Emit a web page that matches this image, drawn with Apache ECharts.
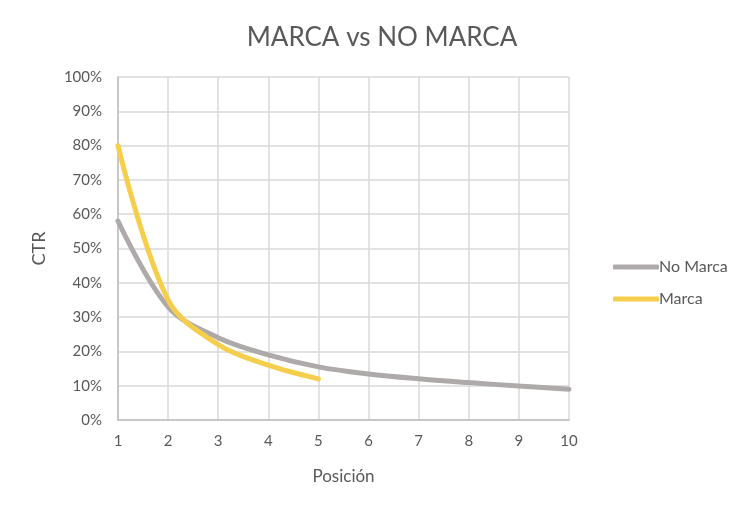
<!DOCTYPE html>
<html><head><meta charset="utf-8">
<script src="https://cdn.jsdelivr.net/npm/echarts@6/dist/echarts.min.js"></script>
<style>html,body{margin:0;padding:0;background:#fff}#c{width:750px;height:512px}</style>
</head><body><div id="c"></div>
<script>
const positions = [1,2,3,4,5,6,7,8,9,10];
const noMarca = [58, 33, 24, 19, 15.5, 13.4, 12, 10.9, 9.9, 9];
const marca = [80, 35, 22, 16, 12];
const seriesNames = ['No Marca','Marca'];
const title = 'MARCA vs NO MARCA';

const font = 'Lato, "Open Sans", sans-serif';
const chart = echarts.init(document.getElementById('c'));
chart.setOption({
  animation:false,
  title:{text:title,left:377,top:20,textAlign:'center',textStyle:{fontFamily:font,fontSize:26,fontWeight:'normal',color:'#595959'}},
  grid:{left:118,right:181,top:77,bottom:92},
  legend:{orient:'vertical',left:608,top:254,itemWidth:46,itemHeight:5,itemGap:16,icon:'roundRect',
    textStyle:{fontFamily:font,fontSize:16,color:'#595959',padding:[0,0,0,-5]},data:seriesNames},
  xAxis:{type:'value',min:1,max:10,interval:1,name:'Posición',nameLocation:'middle',nameGap:48,
    nameTextStyle:{fontFamily:font,fontSize:17,color:'#595959'},
    axisLine:{lineStyle:{color:'#BFBFBF',width:1.5}},axisTick:{show:false},
    axisLabel:{fontFamily:font,fontSize:15,color:'#595959',margin:14},
    splitLine:{show:true,lineStyle:{color:'#D9D9D9',width:1.5}}},
  yAxis:{type:'value',min:0,max:100,interval:10,name:'CTR',nameLocation:'middle',nameGap:70,
    nameTextStyle:{fontFamily:font,fontSize:18,color:'#595959'},
    axisLine:{show:true,lineStyle:{color:'#BFBFBF',width:1.5}},axisTick:{show:false},
    axisLabel:{fontFamily:font,fontSize:15,color:'#595959',formatter:'{value}%',margin:16},
    splitLine:{lineStyle:{color:'#D9D9D9',width:1.5}}},
  series:[
    {name:seriesNames[0],type:'line',smooth:0.35,symbol:'none',data:positions.map((p,i)=>[p,noMarca[i]]),
     lineStyle:{color:'#AEAAAA',width:5,cap:'round'},itemStyle:{color:'#AEAAAA'}},
    {name:seriesNames[1],type:'line',smooth:0.35,symbol:'none',data:marca.map((v,i)=>[positions[i],v]),
     lineStyle:{color:'#F5CF4B',width:5,cap:'round'},itemStyle:{color:'#F5CF4B'}}
  ]
});
</script></body></html>
